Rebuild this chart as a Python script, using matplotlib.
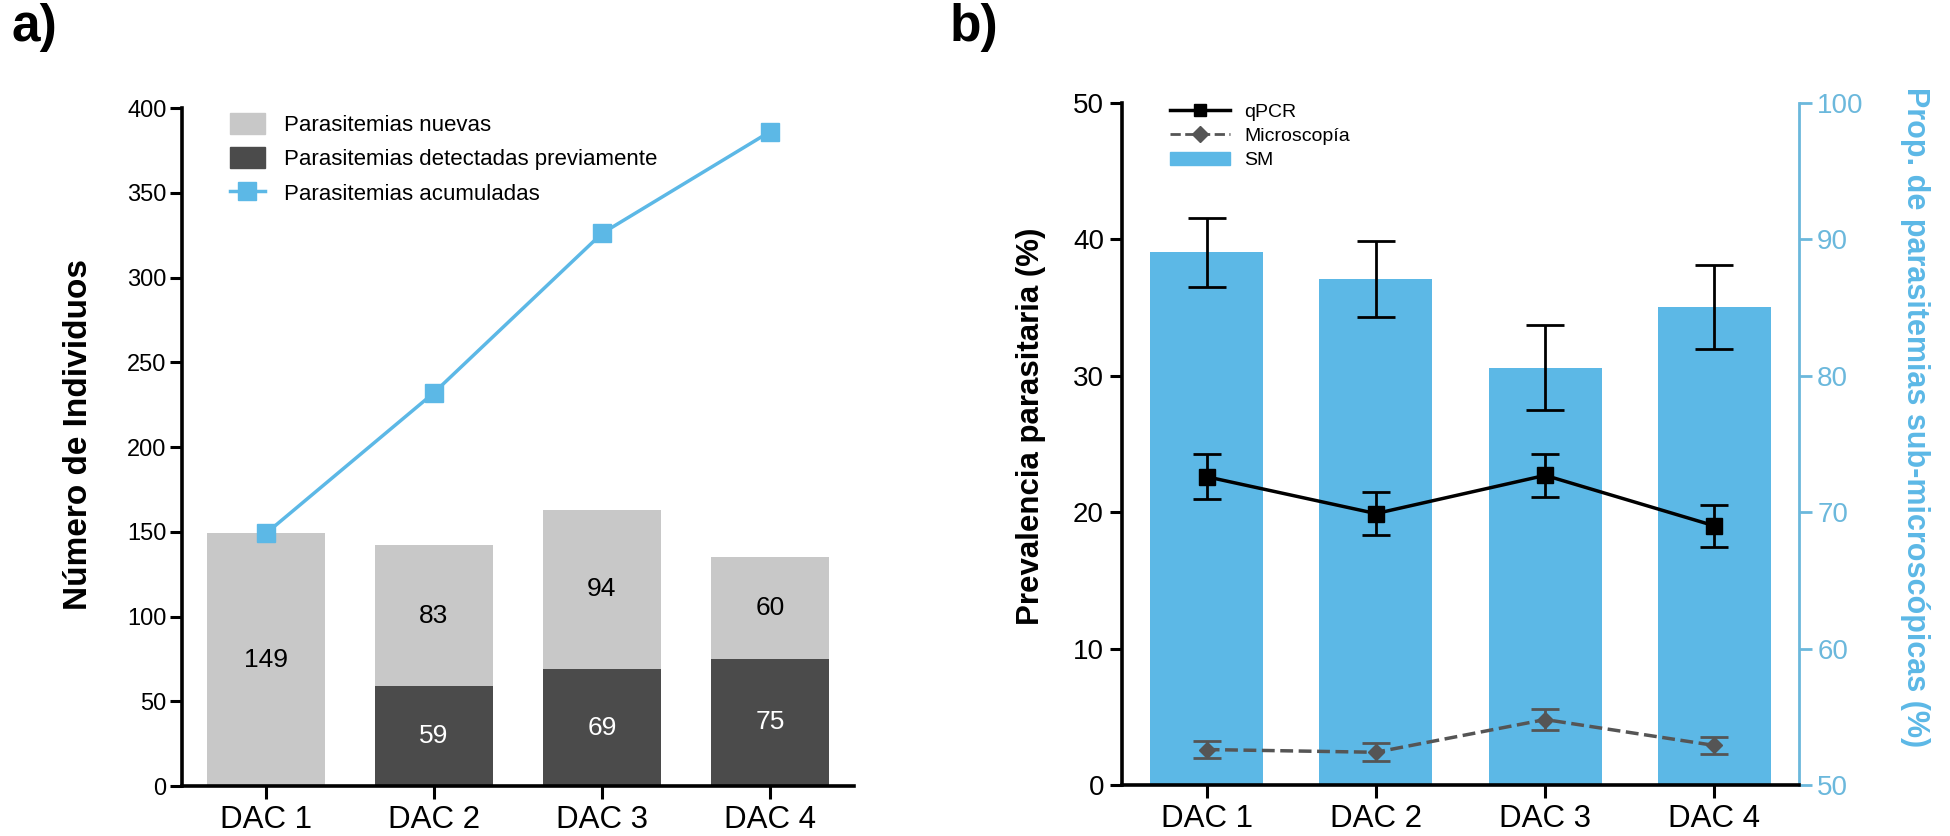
import numpy as np
import matplotlib
matplotlib.use('Agg')
import matplotlib.pyplot as plt
from matplotlib.patches import Patch
from matplotlib.lines import Line2D

plt.rcParams['font.family'] = ['Liberation Sans', 'DejaVu Sans']

# ---- data ----
dacs = ['DAC 1', 'DAC 2', 'DAC 3', 'DAC 4']

# panel a
nuevas = [149, 83, 94, 60]
previas = [0, 59, 69, 75]
acumuladas = [149, 232, 326, 386]

# panel b
qpcr = [22.6, 19.9, 22.7, 19.0]
qpcr_err = [1.65, 1.55, 1.6, 1.55]
micro = [2.6, 2.4, 4.8, 2.9]
micro_err = [0.65, 0.65, 0.75, 0.6]
sm = [89.05, 87.1, 80.6, 85.05]
sm_err = [2.55, 2.8, 3.1, 3.05]

light = '#c8c8c8'
dark = '#4b4b4b'
blue = '#5cb8e6'
blue_axis = '#6bb8dc'

fig = plt.figure(figsize=(19.5, 8.36), dpi=100)

# ================= panel a =================
ax = fig.add_axes([0.0933, 0.0598, 0.3446, 0.811])
x = np.arange(len(dacs))
ax.bar(x, previas, width=0.7, color=dark, zorder=2)
ax.bar(x, nuevas, width=0.7, bottom=previas, color=light, zorder=2)
ax.plot(x, acumuladas, color=blue, lw=2.5, marker='s', ms=12.5, zorder=3)

for i in range(len(dacs)):
    ax.text(x[i], previas[i] + nuevas[i] / 2, str(nuevas[i]), ha='center', va='center',
            fontsize=19, color='black')
    if previas[i] > 0:
        ax.text(x[i], previas[i] / 2, str(previas[i]), ha='center', va='center',
                fontsize=19, color='white')

ax.set_xlim(-0.5, 3.5)
ax.set_ylim(0, 400)
ax.set_yticks(np.arange(0, 401, 50))
ax.set_xticks(x)
ax.set_xticklabels(dacs)
ax.spines['top'].set_visible(False)
ax.spines['right'].set_visible(False)
for s in ['left', 'bottom']:
    ax.spines[s].set_linewidth(2.6)
ax.tick_params(axis='both', width=2.2, length=9, direction='out')
ax.tick_params(axis='y', labelsize=17, pad=2)
ax.tick_params(axis='x', labelsize=22.5, pad=5)
ax.set_ylabel('Número de Individuos', fontsize=24, fontweight='bold', va='center')
ax.yaxis.set_label_coords(-0.154, 0.518)

leg_a = [Patch(color=light, label='Parasitemias nuevas'),
         Patch(color=dark, label='Parasitemias detectadas previamente'),
         Line2D([0], [0], color=blue, lw=2.5, marker='s', ms=12.5, label='Parasitemias acumuladas')]
ax.legend(handles=leg_a, loc='upper left', bbox_to_anchor=(0.071, 0.993), frameon=False,
          borderpad=0, borderaxespad=0, fontsize=16, handlelength=1.6, handleheight=1.1,
          handletextpad=0.85, labelspacing=0.5)

fig.text(0.006, 0.997, 'a)', fontsize=37, fontweight='bold', va='top')

# ================= panel b =================
axb = fig.add_axes([0.5754, 0.061, 0.3472, 0.8158])
ax2 = axb.twinx()
ax2.bar(x, sm, width=0.667, color=blue, zorder=1)
ax2.errorbar(x, sm, yerr=sm_err, fmt='none', ecolor='black', elinewidth=2, capsize=14,
             capthick=2, zorder=2)
ax2.set_ylim(50, 100)
ax2.set_yticks(np.arange(50, 101, 10))

axb.set_zorder(ax2.get_zorder() + 1)
axb.patch.set_visible(False)
axb.errorbar(x, qpcr, yerr=qpcr_err, color='black', lw=2.5, marker='s', ms=11,
             elinewidth=2, capsize=10, capthick=2)
axb.errorbar(x, micro, yerr=micro_err, color='#555555', lw=2.5, ls='--', marker='D', ms=8.5,
             elinewidth=2, capsize=10, capthick=2)

axb.set_xlim(-0.5, 3.5)
axb.set_ylim(0, 50)
axb.set_yticks(np.arange(0, 51, 10))
axb.set_xticks(x)
axb.set_xticklabels(dacs)
axb.spines['top'].set_visible(False)
axb.spines['right'].set_visible(False)
for s in ['left', 'bottom']:
    axb.spines[s].set_linewidth(2.6)
axb.tick_params(axis='both', width=2.2, length=9, direction='out')
axb.tick_params(axis='y', labelsize=20, pad=4)
axb.tick_params(axis='x', labelsize=22.5, pad=5)
axb.set_ylabel('Prevalencia parasitaria (%)', fontsize=22.5, fontweight='bold', va='center')
axb.yaxis.set_label_coords(-0.134, 0.526)

ax2.spines['top'].set_visible(False)
ax2.spines['left'].set_visible(False)
ax2.spines['bottom'].set_visible(False)
ax2.spines['right'].set_color(blue_axis)
ax2.spines['right'].set_linewidth(2)
ax2.tick_params(axis='y', labelsize=20, width=2, length=9, pad=4, colors=blue_axis)
ax2.set_ylabel('Prop. de parasitemias sub-microscópicas (%)', fontsize=22, fontweight='bold',
               color=blue, rotation=270, va='center')
ax2.yaxis.set_label_coords(1.171, 0.54)

leg_b = [Line2D([0], [0], color='black', lw=2.5, marker='s', ms=9, label='qPCR'),
         Line2D([0], [0], color='#555555', lw=2, ls='--', marker='D', ms=8, label='Microscopía'),
         Patch(color=blue, label='SM')]
axb.legend(handles=leg_b, loc='upper left', bbox_to_anchor=(0.071, 1.0), frameon=False,
           borderpad=0, borderaxespad=0, fontsize=14, handlelength=3.1, handletextpad=0.7,
           labelspacing=0.35)

fig.text(0.487, 0.997, 'b)', fontsize=37, fontweight='bold', va='top')

plt.savefig('out.png', dpi=100)
